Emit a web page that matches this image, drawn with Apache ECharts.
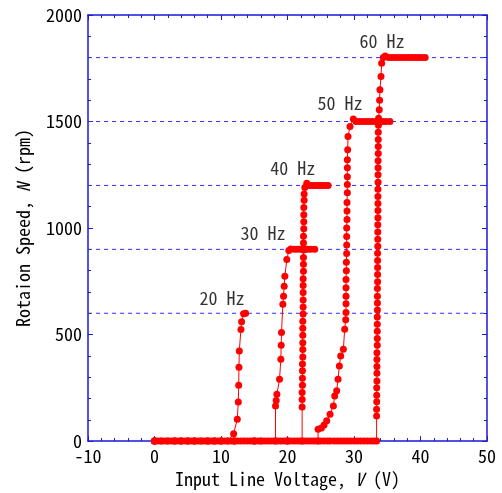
<!DOCTYPE html>
<html>
<head>
<meta charset="utf-8">
<script src="https://cdn.jsdelivr.net/npm/echarts@6/dist/echarts.min.js"></script>
<style>
  html, body { margin: 0; padding: 0; background: #fff; }
  #main { width: 502px; height: 493px; }
</style>
</head>
<body>
<div id="main"></div>
<script>
// 各周波数の測定データ [電圧 V, 回転数 rpm]
var hz20 = [[0,0],[1,0],[2,0],[3,0],[4,0],[5,0],[6,0],[7,0],[8,0],[9,0],[10,0],[11,0],
  [11.9,35],[12.45,103],[12.6,183],[12.66,262],[12.7,347],[12.75,423],[13.0,524],[13.1,560],[13.4,598],[13.7,600]];

var hz30 = [[0,0],[3,0],[6,0],[9,0],[12,0],[15,0],[18.2,0],
  [18.2,165],[18.3,190],[18.4,220],[18.8,290],[19.0,384],[19.05,450],[19.1,510],[19.3,642],[19.4,680],
  [19.5,727],[19.6,774],[19.9,852],[20.2,895],[20.5,902],[21.0,900],[21.5,900],[22.0,900],[22.5,900],
  [23.0,900],[23.5,900],[24.1,900]];

var hz40 = [[0,0],[4,0],[8,0],[12,0],[16,0],[20,0],[22.2,0],
  [22.2,160],[22.2,195],[22.2,228],[22.25,262],[22.25,295],[22.25,330],[22.25,362],[22.3,395],[22.3,430],
  [22.3,462],[22.3,497],[22.3,530],[22.3,562],[22.35,597],[22.35,630],[22.35,662],[22.35,697],[22.35,730],
  [22.35,762],[22.4,797],[22.4,830],[22.4,862],[22.4,897],[22.4,930],[22.4,962],[22.45,997],[22.45,1030],
  [22.45,1062],[22.45,1097],[22.5,1130],[22.5,1160],[22.6,1190],[22.9,1210],[23.3,1200],[23.7,1200],
  [24.1,1200],[24.5,1200],[24.9,1200],[25.3,1200],[25.7,1200],[26.1,1200]];

var hz50 = [[0,0],[5,0],[10,0],[15,0],[20,0],[24.6,0],
  [24.6,56],[25.1,61],[25.5,75],[25.9,95],[26.4,126],[26.9,165],[27.1,212],[27.4,236],[27.6,290],[27.8,353],
  [28.0,400],[28.4,431],[28.6,525],[28.75,570],[28.8,604],[28.8,645],[28.8,680],[28.8,720],[28.8,759],
  [28.85,800],[28.85,840],[28.9,880],[28.9,920],[28.9,960],[28.9,1000],[28.95,1040],[28.95,1080],
  [28.95,1120],[29.0,1166],[29.0,1204],[29.0,1241],[29.0,1283],[29.0,1321],[29.05,1367],[29.1,1430],
  [29.4,1477],[29.9,1512],[30.3,1500],[30.8,1500],[31.3,1500],[31.8,1500],[32.3,1500],[32.8,1500],
  [33.3,1500],[33.8,1500],[34.3,1500],[34.8,1500],[35.4,1500]];

var hz60 = [[0,0],[0.5,0],[1,0],[1.5,0],[2,0],[2.5,0],[3,0],[3.5,0],[4,0],[4.5,0],[5,0],[5.5,0],[6,0],
  [6.5,0],[7,0],[7.5,0],[8,0],[8.5,0],[9,0],[9.5,0],[10,0],[10.5,0],[11,0],[11.5,0],[12,0],[12.5,0],
  [13,0],[13.5,0],[14,0],[14.5,0],[15,0],[15.5,0],[16,0],[16.5,0],[17,0],[17.5,0],[18,0],[18.5,0],
  [19,0],[19.5,0],[20,0],[20.5,0],[21,0],[21.5,0],[22,0],[22.5,0],[23,0],[23.5,0],[24,0],[24.5,0],
  [25,0],[25.5,0],[26,0],[26.4,0],[27.0,0],[27.5,0],[28,0],[28.5,0],[29,0],[29.5,0],[30,0],[30.5,0],
  [31,0],[31.5,0],[32,0],[32.5,0],[33,0],[33.4,0],
  [33.4,118],[33.4,150],[33.42,185],[33.42,215],[33.42,250],[33.45,282],[33.45,318],[33.45,350],
  [33.45,383],[33.45,415],[33.5,450],[33.5,482],[33.5,516],[33.5,548],[33.5,582],[33.52,615],[33.52,648],
  [33.52,680],[33.52,716],[33.55,748],[33.55,782],[33.55,815],[33.55,848],[33.55,882],[33.58,915],
  [33.58,948],[33.58,982],[33.58,1015],[33.6,1048],[33.6,1082],[33.6,1115],[33.6,1148],[33.6,1182],
  [33.62,1215],[33.62,1250],[33.62,1283],[33.62,1316],[33.65,1350],[33.65,1383],[33.65,1416],[33.65,1450],
  [33.68,1483],[33.7,1515],[33.8,1555],[33.85,1600],[33.9,1649],[34.06,1711],[34.16,1774],[34.4,1800],
  [34.7,1808],[35.2,1800],[35.7,1800],[36.2,1800],[36.7,1800],[37.2,1800],[37.7,1800],[38.2,1800],
  [38.7,1800],[39.2,1800],[39.7,1800],[40.2,1800],[40.7,1800]];

// 同期速度の破線
var syncSpeeds = [600, 900, 1200, 1500, 1800];
// 周波数ラベルの位置 [V, N, 文字]
var freqLabels = [[10.15,670,'20 Hz'],[16.3,975,'30 Hz'],[20.8,1280,'40 Hz'],[27.9,1585,'50 Hz'],[34.2,1875,'60 Hz']];

var FONT = "'Noto Sans Mono CJK JP', 'DejaVu Sans Mono', monospace";
var AXIS_COLOR = '#1a1ad8';
var DASH_COLOR = '#3030f0';
var RED = '#ff0000';
var X_MIN = -10, X_MAX = 50;

var chart = echarts.init(document.getElementById('main'));

function axisBase(pos, showLabel) {
  return {
    position: pos,
    axisLine: { show: true, onZero: false, lineStyle: { color: AXIS_COLOR, width: 1.5 } },
    axisTick: { show: true, inside: true, length: 5, lineStyle: { color: AXIS_COLOR } },
    minorTick: { show: true, splitNumber: 5, length: 3, lineStyle: { color: AXIS_COLOR } },
    splitLine: { show: false },
    axisLabel: {
      show: showLabel,
      color: '#000',
      fontSize: 18,
      fontFamily: FONT,
      margin: 6,
      formatter: function(v){ return String(v); }
    }
  };
}

var xBottom = axisBase('bottom', true);
xBottom.type = 'value';
xBottom.min = X_MIN; xBottom.max = X_MAX; xBottom.interval = 10;
xBottom.name = '{a|Input Line Voltage, }{i|V}{a| (V)}';
xBottom.nameLocation = 'middle';
xBottom.nameGap = 28;
xBottom.nameTextStyle = {
  rich: {
    a: { fontSize: 18, fontFamily: FONT, color: '#000' },
    i: { fontSize: 18, fontFamily: FONT, fontStyle: 'italic', color: '#000' }
  }
};

var xTop = axisBase('top', false);
xTop.type = 'value';
xTop.min = X_MIN; xTop.max = X_MAX; xTop.interval = 10;

var yLeft = axisBase('left', true);
yLeft.type = 'value';
yLeft.min = 0; yLeft.max = 2000; yLeft.interval = 500;
yLeft.name = '{a|Rotaion Speed, }{i|N}{a| (rpm)}';
yLeft.nameLocation = 'middle';
yLeft.nameGap = 56;
yLeft.nameTextStyle = {
  rich: {
    a: { fontSize: 18, fontFamily: FONT, color: '#000' },
    i: { fontSize: 18, fontFamily: FONT, fontStyle: 'italic', color: '#000' }
  }
};

var yRight = axisBase('right', false);
yRight.type = 'value';
yRight.min = 0; yRight.max = 2000; yRight.interval = 500;

var seriesList = [];

// 破線 (同期速度)
syncSpeeds.forEach(function(v){
  seriesList.push({
    type: 'line',
    data: [[X_MIN, v], [X_MAX, v]],
    showSymbol: false,
    silent: true,
    animation: false,
    z: 1,
    lineStyle: { color: DASH_COLOR, type: [4, 4], width: 1 }
  });
});

// 測定データ: 線 + 丸印
[hz20, hz30, hz40, hz50, hz60].forEach(function(d){
  seriesList.push({
    type: 'line',
    data: d,
    showSymbol: false,
    animation: false,
    z: 4,
    lineStyle: { color: RED, width: 1 }
  });
  seriesList.push({
    type: 'scatter',
    data: d,
    symbol: 'circle',
    symbolSize: 7,
    animation: false,
    z: 5,
    itemStyle: { color: RED, opacity: 1, borderWidth: 0 }
  });
});

// 周波数ラベル
seriesList.push({
  type: 'scatter',
  data: freqLabels,
  symbolSize: 0,
  animation: false,
  label: {
    show: true,
    position: 'inside',
    formatter: function(p){ return p.value[2]; },
    color: '#000',
    fontSize: 18,
    fontFamily: FONT
  }
});

chart.setOption({
  backgroundColor: '#fff',
  animation: false,
  grid: { left: 88, right: 15, top: 15, bottom: 51 },
  xAxis: [xBottom, xTop],
  yAxis: [yLeft, yRight],
  series: seriesList
});
</script>
</body>
</html>
